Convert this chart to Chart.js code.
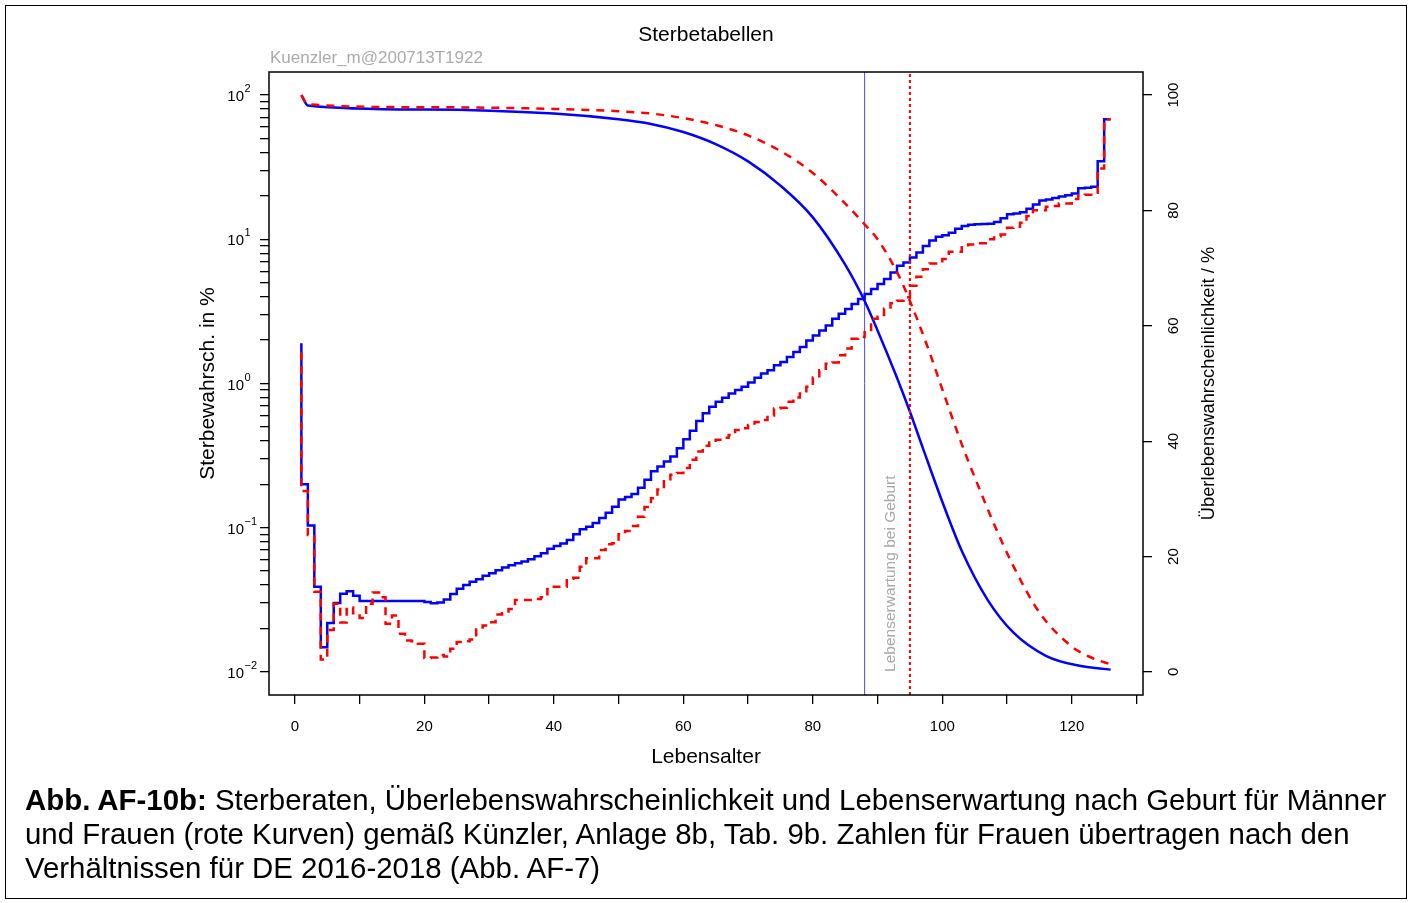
<!DOCTYPE html>
<html lang="de">
<head>
<meta charset="utf-8">
<title>Sterbetabellen</title>
<script src="https://cdn.jsdelivr.net/npm/chart.js@4.4.1/dist/chart.umd.min.js"></script>
<style>
  html, body { margin: 0; padding: 0; background: #fff; }
  #wrap { position: relative; width: 1410px; height: 903px; }
  #chart { position: absolute; left: 0; top: 0; }
  #frame { position: absolute; left: 5px; top: 5px; width: 1400px; height: 892px; border: 1.5px solid #000; }
  #caption {
    position: absolute; left: 25px; top: 783px;
    font-family: "Liberation Sans", Arial, sans-serif; font-size: 29.4px; line-height: 34px;
    color: #000; white-space: nowrap;
  }
</style>
</head>
<body>
<div id="wrap">
  <canvas id="chart" width="1410" height="903"></canvas>
  <div id="frame"></div>
  <div id="caption"><b>Abb. AF-10b:</b> Sterberaten, Überlebenswahrscheinlichkeit und Lebenserwartung nach Geburt für Männer<br>und Frauen (rote Kurven) gemäß Künzler, Anlage 8b, Tab. 9b. Zahlen für Frauen übertragen nach den<br>Verhältnissen für DE 2016-2018 (Abb. AF-7)</div>
</div>
<script>
// Lebensalter (Index 1..126 wie in der Vorlage)
const alter = Array.from({ length: 126 }, (_, i) => i + 1);

// Sterbewahrscheinlichkeit in % - Männer (blau)
const sterbeMaenner = [
  1.9, 0.2, 0.1035, 0.039, 0.0148, 0.0218, 0.030, 0.0348, 0.0363, 0.0338,
  0.031, 0.031, 0.031, 0.031, 0.031, 0.031, 0.031, 0.031, 0.031, 0.031,
  0.0305, 0.0299, 0.0303, 0.0318, 0.0347, 0.0378, 0.040, 0.0422, 0.044, 0.0464,
  0.0484, 0.0508, 0.053, 0.055, 0.0567, 0.0583, 0.0605, 0.0634, 0.0665, 0.0716,
  0.0748, 0.0776, 0.0822, 0.090, 0.0974, 0.1016, 0.108, 0.117, 0.127, 0.1395,
  0.157, 0.163, 0.1715, 0.189, 0.2155, 0.246, 0.266, 0.288, 0.312, 0.356,
  0.41, 0.47, 0.55, 0.621, 0.69, 0.748, 0.797, 0.853, 0.90, 0.949,
  1.016, 1.094, 1.172, 1.235, 1.337, 1.41, 1.527, 1.653, 1.79, 1.99,
  2.153, 2.33, 2.52, 2.81, 3.04, 3.29, 3.56, 3.86, 4.18, 4.52,
  4.90, 5.30, 5.89, 6.55, 6.91, 7.48, 8.10, 8.99, 9.8, 10.4,
  10.66, 11.1, 11.85, 12.36, 12.6, 12.7, 12.75, 12.8, 13.2, 14.0,
  14.9, 15.1, 15.4, 16.3, 17.4, 18.6, 18.9, 19.3, 19.8, 20.2,
  20.8, 22.6, 22.8, 23.1, 34.7, 68
];

// Sterbewahrscheinlichkeit in % - Frauen (rot)
const sterbeFrauen = [
  1.65, 0.18, 0.089, 0.036, 0.0122, 0.0195, 0.0297, 0.022, 0.028, 0.0255,
  0.0237, 0.0297, 0.0356, 0.0329, 0.0216, 0.0246, 0.0184, 0.0165, 0.0163, 0.0157,
  0.0125, 0.0126, 0.0131, 0.0128, 0.0145, 0.0161, 0.0163, 0.0168, 0.0197, 0.021,
  0.0221, 0.025, 0.0255, 0.0273, 0.0315, 0.0315, 0.0315, 0.032, 0.0329, 0.0376,
  0.039, 0.039, 0.0442, 0.045, 0.0536, 0.0614, 0.0614, 0.07, 0.0767, 0.078,
  0.09, 0.095, 0.1026, 0.119, 0.139, 0.16, 0.184, 0.21, 0.233, 0.24,
  0.259, 0.296, 0.338, 0.37, 0.39, 0.407, 0.42, 0.44, 0.476, 0.49,
  0.516, 0.54, 0.558, 0.60, 0.672, 0.68, 0.748, 0.80, 0.853, 0.95,
  1.1, 1.235, 1.37, 1.4, 1.57, 1.75, 2.04, 2.1, 2.27, 2.81,
  2.9, 3.3, 3.6, 3.75, 3.96, 4.76, 5.5, 6.2, 6.8, 6.8,
  7.3, 8.2, 8.2, 9.1, 9.2, 9.4, 9.4, 10.0, 10.5, 10.8,
  12.0, 12.2, 13.0, 14.5, 15.9, 15.9, 16.8, 17.0, 17.7, 17.7,
  19.0, 20.0, 20.4, 21.0, 31, 68
];

// Überlebenswahrscheinlichkeit in % (rechte Achse)
const ueberlebenAlterM = [1, 2, 20, 40, 50, 55, 60, 65, 70, 75, 80, 85, 88, 90, 93, 95, 97, 100, 103, 107, 111, 116, 121, 126];
const ueberlebenMaenner = [100, 98.2, 97.5, 96.8, 95.8, 95.0, 93.6, 91.5, 88.5, 84.3, 78.8, 70.6, 64.3, 59.2, 51.0, 45.1, 38.8, 29.5, 21.0, 12.5, 6.8, 2.8, 1.1, 0.4];
const ueberlebenAlterF = [1, 2, 20, 40, 50, 55, 60, 65, 70, 75, 80, 85, 88, 90, 93, 95, 98, 100, 103, 106, 108, 111, 115, 120, 123, 126];
const ueberlebenFrauen = [100, 98.4, 97.9, 97.6, 97.2, 96.8, 96.0, 94.8, 93.0, 90.3, 86.5, 81.2, 77.6, 75.0, 69.3, 64.3, 55.5, 49.0, 39.5, 31.0, 25.6, 18.3, 10.3, 4.4, 2.5, 1.3];

// Lebenserwartung bei Geburt [Männer, Frauen]
const lebenserwartung = [88, 95];

// Achsen
const xTicks = [0, 10, 20, 30, 40, 50, 60, 70, 80, 90, 100, 110, 120, 130];
const xLabelStep = 20;
const logDekaden = [-2, -1, 0, 1, 2];
const rechtsTicks = [0, 20, 40, 60, 80, 100];
const X_MIN = -4, X_MAX = 131;
const LOG_MIN = Math.pow(10, -2.16), LOG_MAX = Math.pow(10, 2.16);
const R_MIN = -4, R_MAX = 104;

const FONT = '"Liberation Sans", Arial, Helvetica, sans-serif';
const BLAU = '#0000ff';
const ROT = '#ff0000';

// alle Teilstriche der Log-Achse (1..9 je Dekade)
const logTicks = [];
logDekaden.forEach(e => {
  for (let m = 1; m <= 9; m++) {
    const v = m * Math.pow(10, e);
    if (v >= LOG_MIN && v <= LOG_MAX) logTicks.push(v);
  }
});

const toPoints = (xs, ys) => xs.map((x, i) => ({ x, y: ys[i] }));

const figurePlugin = {
  id: 'figure',
  afterDraw(chart) {
    const ctx = chart.ctx;
    const { left, right, top, bottom } = chart.chartArea;
    const xs = chart.scales.x;
    const ys = chart.scales.y;
    const yr = chart.scales.y2;
    ctx.save();

    // Rahmen um das Diagramm
    ctx.strokeStyle = '#000';
    ctx.lineWidth = 1.5;
    ctx.strokeRect(left, top, right - left, bottom - top);

    ctx.fillStyle = '#000';
    // linke Achse: 10^n
    logDekaden.forEach(e => {
      const y = ys.getPixelForValue(Math.pow(10, e));
      ctx.font = '15px ' + FONT;
      ctx.textAlign = 'right';
      ctx.textBaseline = 'middle';
      ctx.fillText('10', 244, y + 2);
      ctx.font = '11px ' + FONT;
      ctx.textAlign = 'left';
      ctx.fillText(e < 0 ? '\u2212' + Math.abs(e) : String(e), 244.5, y - 6);
    });

    // rechte Achse, gedrehte Beschriftung
    ctx.font = '15px ' + FONT;
    ctx.textAlign = 'center';
    ctx.textBaseline = 'middle';
    rechtsTicks.forEach(v => {
      const y = yr.getPixelForValue(v);
      ctx.save();
      ctx.translate(1174, y);
      ctx.rotate(-Math.PI / 2);
      ctx.fillText(String(v), 0, 0);
      ctx.restore();
    });

    // Titel und Achsentitel
    ctx.font = '21px ' + FONT;
    ctx.fillText('Sterbetabellen', (left + right) / 2, 35);
    ctx.fillText('Lebensalter', (left + right) / 2, 757);

    ctx.save();
    ctx.translate(208, (top + bottom) / 2);
    ctx.rotate(-Math.PI / 2);
    ctx.fillText('Sterbewahrsch. in %', 0, 0);
    ctx.restore();

    ctx.save();
    ctx.font = '18.3px ' + FONT;
    ctx.translate(1209, (top + bottom) / 2);
    ctx.rotate(-Math.PI / 2);
    ctx.fillText('\u00dcberlebenswahrscheinlichkeit / %', 0, 0);
    ctx.restore();

    // Kennung oben links
    ctx.fillStyle = '#ababab';
    ctx.font = '17px ' + FONT;
    ctx.textAlign = 'left';
    ctx.fillText('Kuenzler_m@200713T1922', left + 1, 58);

    // Beschriftung der Lebenserwartung
    ctx.save();
    ctx.font = '15.5px ' + FONT;
    ctx.fillStyle = '#a8a8a8';
    const lx = (xs.getPixelForValue(lebenserwartung[0]) + xs.getPixelForValue(lebenserwartung[1])) / 2 + 3;
    ctx.translate(lx, yr.getPixelForValue(0));
    ctx.rotate(-Math.PI / 2);
    ctx.textAlign = 'left';
    ctx.fillText('Lebenserwartung bei Geburt', 0, 0);
    ctx.restore();

    ctx.restore();
  }
};

new Chart(document.getElementById('chart'), {
  type: 'line',
  data: {
    datasets: [
      {
        label: 'Sterbewahrsch. Frauen',
        data: toPoints(alter, sterbeFrauen),
        yAxisID: 'y',
        stepped: 'after',
        borderColor: ROT,
        borderWidth: 2.5,
        borderDash: [8, 6],
        pointRadius: 0,
        order: 1
      },
      {
        label: 'Überleben Frauen',
        data: toPoints(ueberlebenAlterF, ueberlebenFrauen),
        yAxisID: 'y2',
        cubicInterpolationMode: 'monotone',
        borderColor: ROT,
        borderWidth: 2.5,
        borderDash: [8, 7],
        pointRadius: 0,
        order: 1
      },
      {
        label: 'Lebenserwartung Frauen',
        data: [{ x: lebenserwartung[1], y: R_MIN }, { x: lebenserwartung[1], y: R_MAX }],
        yAxisID: 'y2',
        borderColor: ROT,
        borderWidth: 2,
        borderDash: [3, 3],
        pointRadius: 0,
        order: 1
      },
      {
        label: 'Sterbewahrsch. Männer',
        data: toPoints(alter, sterbeMaenner),
        yAxisID: 'y',
        stepped: 'after',
        borderColor: BLAU,
        borderWidth: 2.5,
        pointRadius: 0,
        order: 2
      },
      {
        label: 'Überleben Männer',
        data: toPoints(ueberlebenAlterM, ueberlebenMaenner),
        yAxisID: 'y2',
        cubicInterpolationMode: 'monotone',
        borderColor: BLAU,
        borderWidth: 2.5,
        pointRadius: 0,
        order: 2
      },
      {
        label: 'Lebenserwartung Männer',
        data: [{ x: lebenserwartung[0], y: R_MIN }, { x: lebenserwartung[0], y: R_MAX }],
        yAxisID: 'y2',
        borderColor: '#4a4aff',
        borderWidth: 1,
        pointRadius: 0,
        order: 2
      }
    ]
  },
  options: {
    responsive: false,
    animation: false,
    devicePixelRatio: 1,
    layout: { padding: { top: 72, left: 0, right: 0, bottom: 0 } },
    plugins: {
      legend: { display: false },
      title: { display: false },
      tooltip: { enabled: false }
    },
    scales: {
      x: {
        type: 'linear',
        position: 'bottom',
        min: X_MIN,
        max: X_MAX,
        afterBuildTicks: s => { s.ticks = xTicks.map(v => ({ value: v })); },
        afterFit: s => { s.height = 903 - 695; },
        grid: { display: true, drawOnChartArea: false, drawTicks: true, tickLength: 9, color: '#000', tickColor: '#000', lineWidth: 1.3 },
        border: { display: false },
        ticks: {
          autoSkip: false,
          maxRotation: 0,
          padding: 14,
          color: '#000',
          font: { family: FONT, size: 15 },
          callback: v => (v % xLabelStep === 0 ? String(v) : '')
        }
      },
      y: {
        type: 'logarithmic',
        position: 'left',
        min: LOG_MIN,
        max: LOG_MAX,
        afterBuildTicks: s => { s.ticks = logTicks.map(v => ({ value: v })); },
        afterFit: s => { s.width = 269; },
        grid: { display: true, drawOnChartArea: false, drawTicks: true, tickLength: 9, color: '#000', tickColor: '#000', lineWidth: 1.3 },
        border: { display: false },
        ticks: { display: false }
      },
      y2: {
        type: 'linear',
        position: 'right',
        min: R_MIN,
        max: R_MAX,
        afterBuildTicks: s => { s.ticks = rechtsTicks.map(v => ({ value: v })); },
        afterFit: s => { s.width = 1410 - 1143; },
        grid: { display: true, drawOnChartArea: false, drawTicks: true, tickLength: 9, color: '#000', tickColor: '#000', lineWidth: 1.3 },
        border: { display: false },
        ticks: { display: false }
      }
    }
  },
  plugins: [figurePlugin]
});
</script>
</body>
</html>
